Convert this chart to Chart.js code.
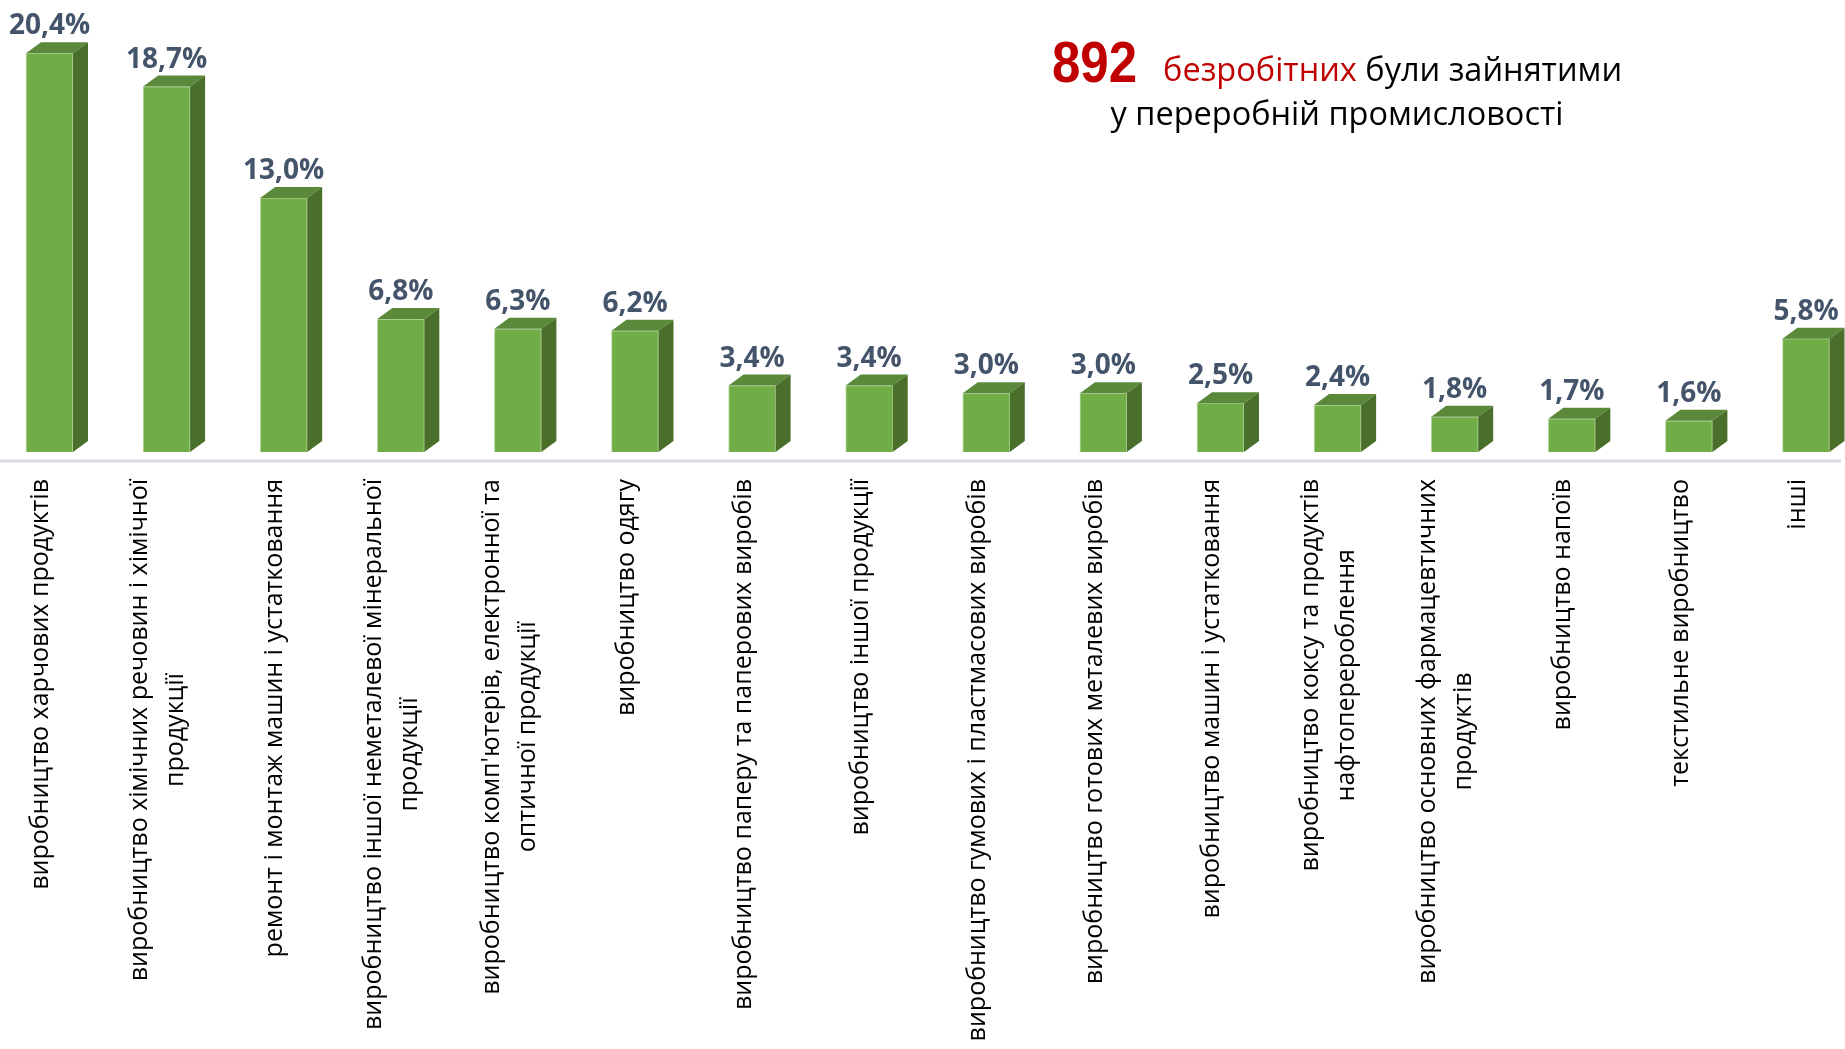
<!DOCTYPE html>
<html lang="uk">
<head>
<meta charset="utf-8">
<title>892 безробітних у переробній промисловості</title>
<script src="https://cdn.jsdelivr.net/npm/chart.js@4.4.1/dist/chart.umd.min.js"></script>
<style>
  html, body { margin: 0; padding: 0; background: #fff; }
  #wrap { position: relative; width: 1845px; height: 1049px; }
</style>
</head>
<body>
<div id="wrap"><canvas id="mainChart"></canvas></div>
<script>
// --- Data ---
const categories = [
  ['виробництво харчових продуктів'],
  ['виробництво хімічних речовин і хімічної', 'продукції'],
  ['ремонт і монтаж машин і устатковання'],
  ['виробництво іншої неметалевої мінеральної', 'продукції'],
  ["виробництво комп'ютерів, електронної та", 'оптичної продукції'],
  ['виробництво одягу'],
  ['виробництво паперу та паперових виробів'],
  ['виробництво іншої продукції'],
  ['виробництво гумових і пластмасових виробів'],
  ['виробництво готових металевих виробів'],
  ['виробництво машин і устатковання'],
  ['виробництво коксу та продуктів', 'нафтоперероблення'],
  ['виробництво основних фармацевтичних', 'продуктів'],
  ['виробництво напоїв'],
  ['текстильне виробництво'],
  ['інші'],
];
const shares = [20.4, 18.7, 13.0, 6.8, 6.3, 6.2, 3.4, 3.4, 3.0, 3.0, 2.5, 2.4, 1.8, 1.7, 1.6, 5.8];

const titleCount = '892';
const titleRed   = 'безробітних';
const titleRest  = 'були зайнятими';
const titleLine2 = 'у переробній промисловості';

// --- Styles ---
const FRONT = '#70ad47';
const TOP   = '#5a8a39';
const SIDE  = '#4a6f2b';
const DEPTH_X = 15;
const DEPTH_Y = 11;

const fmt = v => v.toFixed(1).replace('.', ',') + '%';

// 3D top/side faces, value labels and the floor line
const bars3d = {
  id: 'bars3d',
  afterDatasetsDraw(chart) {
    const ctx = chart.ctx;
    const meta = chart.getDatasetMeta(0);
    const base = chart.scales.y.getPixelForValue(0);

    ctx.save();
    ctx.strokeStyle = '#d9dde3';
    ctx.lineWidth = 3;
    ctx.beginPath();
    ctx.moveTo(0, base + 9);
    ctx.lineTo(chart.width - 4, base + 9);
    ctx.stroke();

    meta.data.forEach((bar, i) => {
      const x0 = bar.x - bar.width / 2;
      const x1 = bar.x + bar.width / 2;
      const yt = bar.y;

      ctx.fillStyle = TOP;
      ctx.beginPath();
      ctx.moveTo(x0, yt);
      ctx.lineTo(x0 + DEPTH_X, yt - DEPTH_Y);
      ctx.lineTo(x1 + DEPTH_X, yt - DEPTH_Y);
      ctx.lineTo(x1, yt);
      ctx.closePath();
      ctx.fill();

      ctx.fillStyle = SIDE;
      ctx.beginPath();
      ctx.moveTo(x1, yt);
      ctx.lineTo(x1 + DEPTH_X, yt - DEPTH_Y);
      ctx.lineTo(x1 + DEPTH_X, bar.base - DEPTH_Y);
      ctx.lineTo(x1, bar.base);
      ctx.closePath();
      ctx.fill();

      ctx.fillStyle = '#44546a';
      ctx.font = 'bold 28px "Open Sans", sans-serif';
      ctx.textAlign = 'center';
      ctx.textBaseline = 'alphabetic';
      ctx.fillText(fmt(shares[i]), bar.x, yt - 19);
    });
    ctx.restore();
  },
};

// rotated category labels, lines centred inside their block
const xLabels = {
  id: 'xLabels',
  afterDraw(chart) {
    const ctx = chart.ctx;
    const xs = chart.scales.x;
    const top = chart.scales.y.getPixelForValue(0) + 27;
    const lh = 36;

    ctx.save();
    ctx.font = '25px "Open Sans", sans-serif';
    ctx.fillStyle = '#000';
    ctx.textAlign = 'center';
    ctx.textBaseline = 'middle';
    categories.forEach((lines, i) => {
      const cx = xs.getPixelForValue(i) - 8.5;
      const w = Math.max(...lines.map(l => ctx.measureText(l).width));
      ctx.save();
      ctx.translate(cx, top);
      ctx.rotate(-Math.PI / 2);
      lines.forEach((l, j) => {
        ctx.fillText(l, -w / 2, (j - (lines.length - 1) / 2) * lh);
      });
      ctx.restore();
    });
    ctx.restore();
  },
};

// two-line heading with mixed colours
const heading = {
  id: 'heading',
  afterDraw(chart) {
    const ctx = chart.ctx;
    const cx = 1337;
    const squeeze = 0.88; // narrow bold look for the number
    ctx.save();
    ctx.textBaseline = 'alphabetic';
    ctx.textAlign = 'left';

    const fNum = 'bold 58px "Liberation Sans", sans-serif';
    const fTxt = '32.5px "Open Sans", sans-serif';
    ctx.font = fNum;
    const wNum = ctx.measureText(titleCount).width * squeeze;
    ctx.font = fTxt;
    const wRed = ctx.measureText(titleRed).width;
    const wSp = ctx.measureText(' ').width;
    const wRest = ctx.measureText(titleRest).width;
    const gap = 26;
    let x = cx - (wNum + gap + wRed + wSp + wRest) / 2;

    ctx.font = fNum;
    ctx.fillStyle = '#c00000';
    ctx.save();
    ctx.translate(x, 82);
    ctx.scale(squeeze, 1);
    ctx.fillText(titleCount, 0, 0);
    ctx.restore();
    x += wNum + gap;
    ctx.font = fTxt;
    ctx.fillText(titleRed, x, 81);
    x += wRed + wSp;
    ctx.fillStyle = '#000';
    ctx.fillText(titleRest, x, 81);

    ctx.textAlign = 'center';
    ctx.fillText(titleLine2, cx, 125);
    ctx.restore();
  },
};

const chart = new Chart(document.getElementById('mainChart').getContext('2d'), {
  type: 'bar',
  data: {
    datasets: [{
      data: shares.map((v, i) => ({ x: i, y: v })),
      backgroundColor: FRONT,
      borderColor: 'rgba(169,209,142,0.8)',
      borderWidth: 1,
      barThickness: 47,
    }],
  },
  options: {
    responsive: true,
    maintainAspectRatio: false,
    animation: false,
    layout: { padding: { top: 22, bottom: 597, left: 0, right: 0 } },
    plugins: {
      legend: { display: false },
      tooltip: { enabled: false },
    },
    scales: {
      x: { type: 'linear', offset: false, min: -0.4227, max: 15.333, display: false, grid: { display: false } },
      y: { min: 0, max: 22, display: false, grid: { display: false } },
    },
  },
  plugins: [bars3d, xLabels, heading],
});
</script>
</body>
</html>
